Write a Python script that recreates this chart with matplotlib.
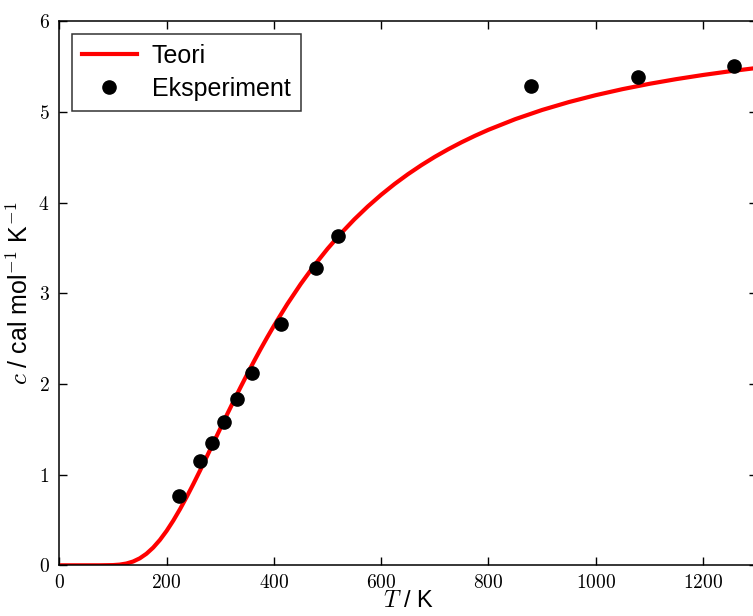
import matplotlib
matplotlib.use('Agg')
from matplotlib import pyplot as plt
from matplotlib.ticker import FuncFormatter

# Teori-kurve (lest av figuren)
T_teori = [5, 25, 50, 75, 100, 112.5, 125, 137.5, 150, 162.5, 175, 187.5, 200,
           212.5, 225, 237.5, 250, 262.5, 275, 287.5, 300, 312.5, 325, 337.5,
           350, 362.5, 375, 387.5, 400, 425, 450, 475, 500, 525, 550, 575, 600,
           625, 650, 675, 700, 725, 750, 775, 800, 850, 900, 950, 1000, 1050,
           1100, 1150, 1200, 1250, 1300]
c_teori = [0.0, 0.0, 0.0, 0.0001, 0.0023, 0.0076, 0.0196, 0.0417, 0.0771,
           0.1280, 0.1956, 0.2798, 0.3797, 0.4937, 0.6197, 0.7556, 0.899,
           1.0477, 1.1999, 1.3539, 1.5081, 1.6613, 1.8124, 1.9607, 2.1054,
           2.2461, 2.3829, 2.5146, 2.6418, 2.882, 3.1032, 3.3062, 3.4919,
           3.6618, 3.8170, 3.9587, 4.0882, 4.2069, 4.3154, 4.4149, 4.5066,
           4.5904, 4.6678, 4.7392, 4.8051, 4.9225, 5.0237, 5.1110, 5.1871,
           5.2537, 5.3123, 5.3639, 5.4098, 5.4507, 5.4872]

# Eksperimentelle punkter
T_eksp = [222.4, 262.4, 283.7, 306.4, 331.3, 358.5, 413.0, 479.2, 520.0,
          879.7, 1079.7, 1258.0]
c_eksp = [0.76, 1.15, 1.35, 1.58, 1.84, 2.12, 2.66, 3.28, 3.63, 5.29, 5.39, 5.51]

plt.rcParams['font.family'] = ['Liberation Sans', 'DejaVu Sans']
plt.rcParams['mathtext.fontset'] = 'cm'

fig = plt.figure(figsize=(7.53, 6.16), dpi=100)
ax = fig.add_axes([0.0788, 0.0823, 0.926, 0.8828])

ax.plot(T_teori, c_teori, color='#ff0000', lw=3, label='Teori')
ax.plot(T_eksp, c_eksp, 'o', color='black', ms=9.5, label='Eksperiment')

ax.set_xlim(0, 1300)
ax.set_ylim(0, 6)
ax.set_xticks(range(0, 1300, 200))
ax.set_yticks(range(0, 7))
fmt = FuncFormatter(lambda v, p: '$%d$' % v)
ax.xaxis.set_major_formatter(fmt)
ax.yaxis.set_major_formatter(fmt)
ax.tick_params(direction='in', length=6, width=1, top=True, right=True,
               labelsize=14, pad=7)
ax.tick_params(axis='x', pad=6)
for s in ax.spines.values():
    s.set_linewidth(1.1)

ax.set_xlabel('$T$ / K', fontsize=17, labelpad=-1)
ax.set_ylabel('$c$ / cal mol$^{-1}$ K$^{-1}$', fontsize=18, labelpad=4)

leg = ax.legend(loc='upper left', fontsize=18, frameon=True, fancybox=False,
                numpoints=1, handlelength=2.2, handletextpad=0.6,
                borderaxespad=0.5, labelspacing=0.35)
leg.get_frame().set_edgecolor('black')
leg.get_frame().set_linewidth(1.1)

fig.savefig('out.png', dpi=100)
